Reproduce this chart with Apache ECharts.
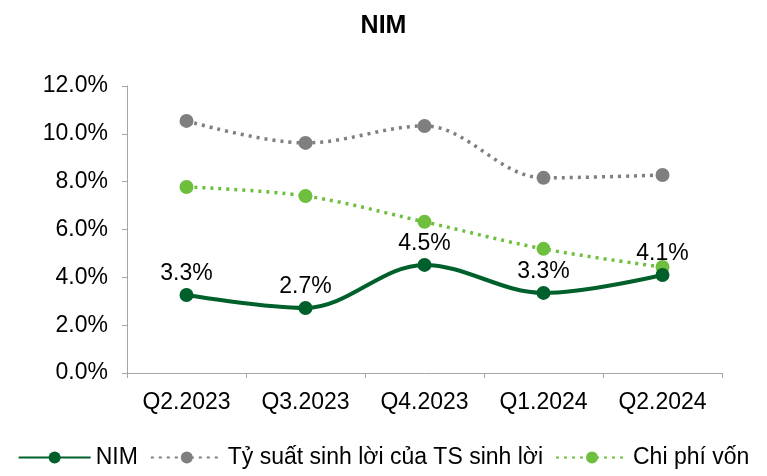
<!DOCTYPE html>
<html>
<head>
<meta charset="utf-8">
<script src="https://cdn.jsdelivr.net/npm/echarts@6/dist/echarts.min.js"></script>
<style>
  html, body { margin: 0; padding: 0; background: #fff; }
  #main { width: 767px; height: 476px; }
</style>
</head>
<body>
<div id="main"></div>
<script>
var categories = ['Q2.2023', 'Q3.2023', 'Q4.2023', 'Q1.2024', 'Q2.2024'];
var nim = [3.26, 2.72, 4.52, 3.35, 4.1];
var nimLabels = ['3.3%', '2.7%', '4.5%', '3.3%', '4.1%'];
var yieldAssets = [10.54, 9.62, 10.33, 8.16, 8.28];
var costFunds = [7.78, 7.4, 6.32, 5.19, 4.43];

var myChart = echarts.init(document.getElementById('main'));
var font = 'Liberation Sans, Arial, sans-serif';

var option = {
    backgroundColor: '#fff',
    textStyle: { fontFamily: font },
    title: {
        text: 'NIM',
        left: 'center',
        top: 9,
        textStyle: { fontFamily: font, fontSize: 25, fontWeight: 'bold', color: '#000' }
    },
    grid: { left: 127, right: 45, top: 86, bottom: 103 },
    legend: {
        bottom: 2,
        left: 'center',
        itemWidth: 72,
        itemHeight: 15,
        itemGap: 12,
        textStyle: { fontFamily: font, fontSize: 23, color: '#000' },
        data: ['NIM', 'Tỷ suất sinh lời của TS sinh lời', 'Chi phí vốn']
    },
    xAxis: {
        type: 'category',
        data: categories,
        axisLine: { lineStyle: { color: '#a6a6a6' } },
        axisTick: { show: true, length: 5, lineStyle: { color: '#a6a6a6' } },
        axisLabel: { fontFamily: font, fontSize: 23, color: '#000', margin: 18 }
    },
    yAxis: {
        type: 'value',
        min: 0,
        max: 12,
        interval: 2,
        axisLine: { show: true, lineStyle: { color: '#a6a6a6' } },
        axisTick: { show: true, length: 5, lineStyle: { color: '#a6a6a6' } },
        splitLine: { show: false },
        axisLabel: {
            fontFamily: font, fontSize: 23, color: '#000', margin: 19,
            formatter: function (v) { return v.toFixed(1) + '%'; }
        }
    },
    series: [
        {
            name: 'Tỷ suất sinh lời của TS sinh lời',
            type: 'line',
            smooth: 0.35,
            data: yieldAssets,
            symbol: 'circle',
            symbolSize: 14,
            itemStyle: { color: '#7f7f7f' },
            lineStyle: { color: '#7f7f7f', width: 3.5, type: [3, 5] }
        },
        {
            name: 'Chi phí vốn',
            type: 'line',
            smooth: 0.35,
            data: costFunds,
            symbol: 'circle',
            symbolSize: 14,
            itemStyle: { color: '#6fbf3f' },
            lineStyle: { color: '#6fbf3f', width: 3.5, type: [3, 5] }
        },
        {
            name: 'NIM',
            type: 'line',
            smooth: 0.35,
            data: nim,
            symbol: 'circle',
            symbolSize: 14,
            z: 5,
            itemStyle: { color: '#00602b' },
            lineStyle: { color: '#00602b', width: 4 },
            label: {
                show: true,
                position: 'top',
                distance: 3,
                fontFamily: font,
                fontSize: 23,
                color: '#000',
                formatter: function (p) { return nimLabels[p.dataIndex]; }
            }
        }
    ]
};

myChart.setOption(option);
</script>
</body>
</html>
